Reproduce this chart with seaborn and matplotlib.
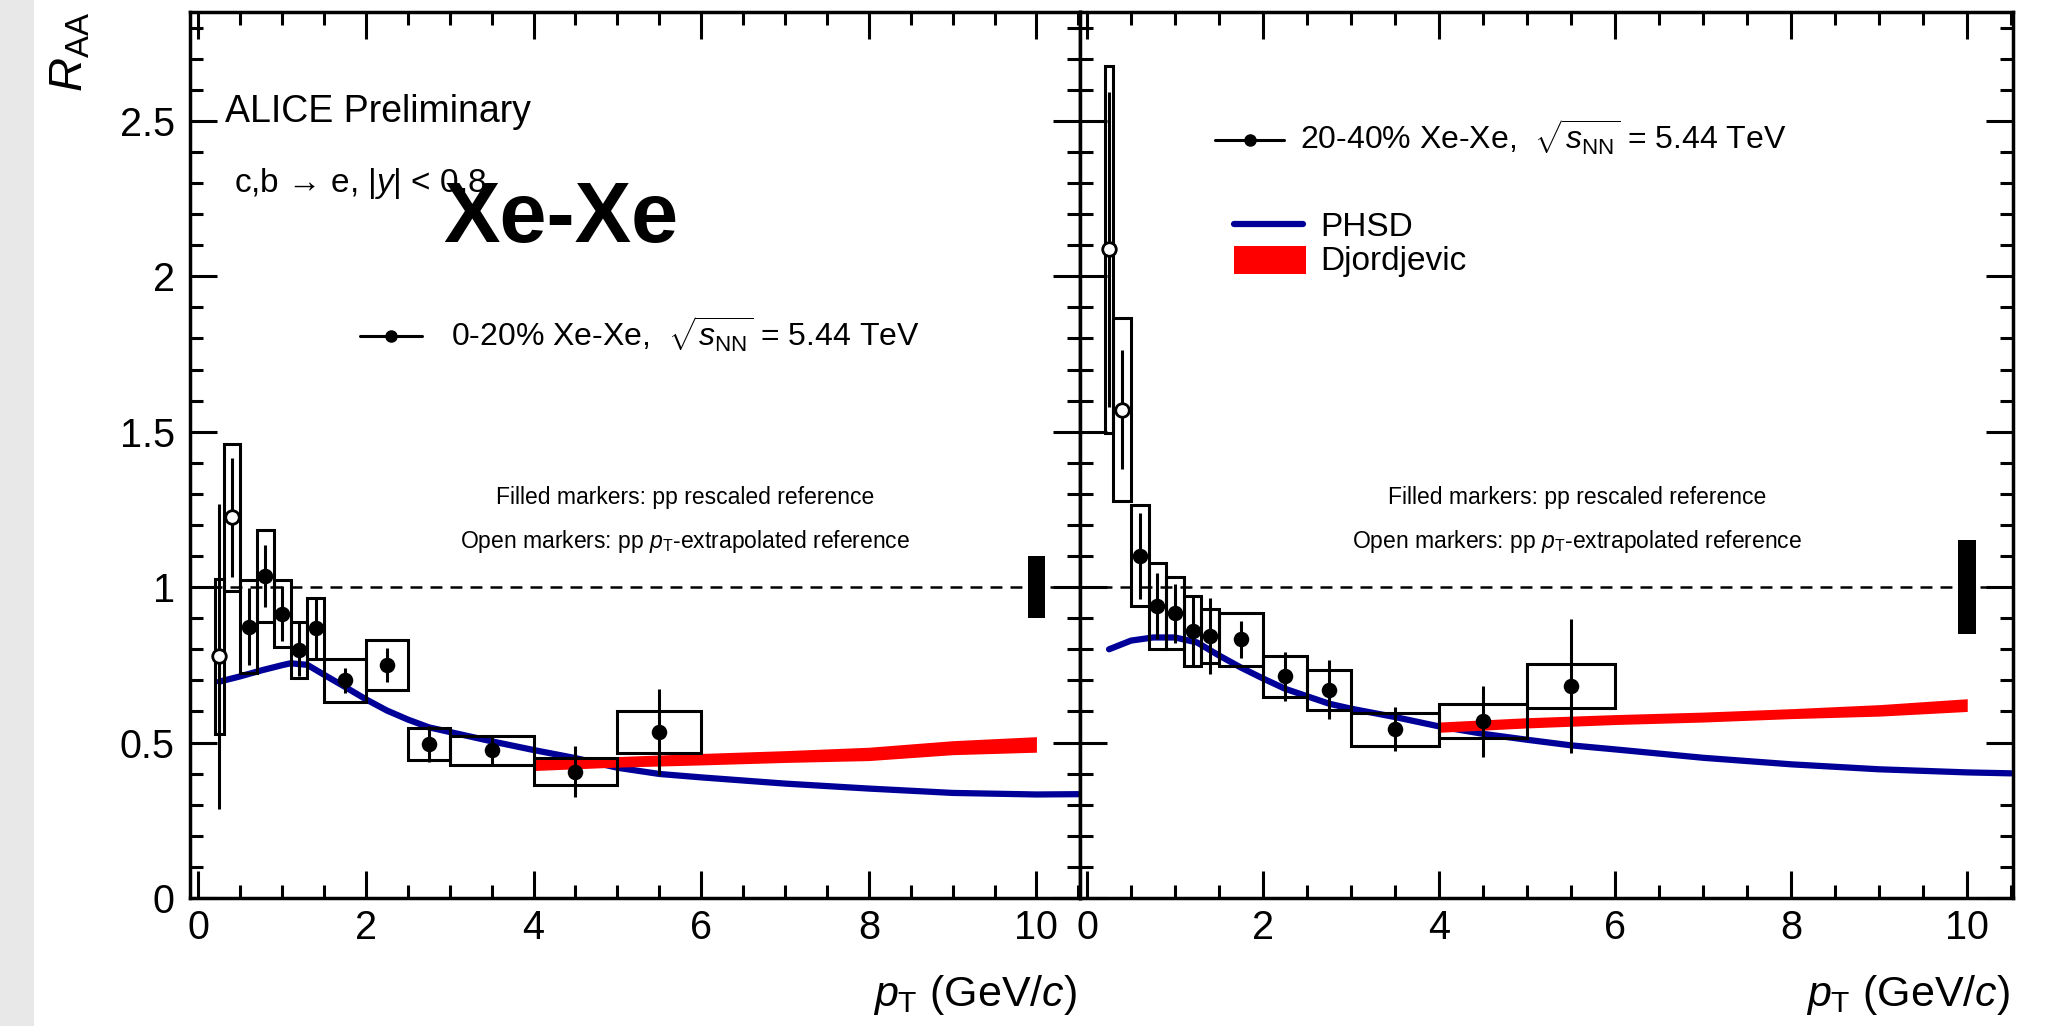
import matplotlib
matplotlib.use("Agg")
import matplotlib.pyplot as plt
from matplotlib.patches import Rectangle
from matplotlib.ticker import MultipleLocator, NullFormatter
import pandas as pd
import seaborn as sns

# ---------------- data: heavy-flavour electron R_AA in Xe-Xe ----------------
# bin layout shared by both centrality classes
pt_open = [0.25, 0.40]
bin_lo_open = [0.2, 0.3]
bin_hi_open = [0.3, 0.5]
pt_fill = [0.6, 0.8, 1.0, 1.2, 1.4, 1.75, 2.25, 2.75, 3.5, 4.5, 5.5]
bin_lo_fill = [0.5, 0.7, 0.9, 1.1, 1.3, 1.5, 2.0, 2.5, 3.0, 4.0, 5.0]
bin_hi_fill = [0.7, 0.9, 1.1, 1.3, 1.5, 2.0, 2.5, 3.0, 4.0, 5.0, 6.0]

# 0-20 %
raa_c0_open = [0.777, 1.224]
stat_c0_open = [0.49, 0.19]
sys_c0_open = [0.25, 0.236]
raa_c0 = [0.873, 1.036, 0.915, 0.798, 0.867, 0.701, 0.750, 0.495, 0.475, 0.406, 0.534]
stat_c0 = [0.125, 0.100, 0.088, 0.085, 0.095, 0.040, 0.054, 0.058, 0.050, 0.082, 0.137]
sys_c0 = [0.150, 0.147, 0.109, 0.090, 0.098, 0.069, 0.080, 0.052, 0.046, 0.043, 0.068]
norm_c0 = 0.10

# 20-40 %
raa_c1_open = [2.087, 1.571]
stat_c1_open = [0.506, 0.192]
sys_c1_open = [0.59, 0.295]
raa_c1 = [1.101, 0.940, 0.916, 0.859, 0.843, 0.832, 0.713, 0.670, 0.543, 0.569, 0.682]
stat_c1 = [0.138, 0.106, 0.095, 0.108, 0.123, 0.059, 0.078, 0.094, 0.070, 0.114, 0.215]
sys_c1 = [0.162, 0.139, 0.116, 0.112, 0.087, 0.086, 0.067, 0.064, 0.053, 0.055, 0.071]
norm_c1 = 0.15

# PHSD predictions
phsd_c0_pt = [0.25, 0.5, 0.75, 1.0, 1.1, 1.3, 1.5, 1.75, 2.0, 2.25, 2.5, 2.75, 3.0,
              3.5, 4.0, 4.5, 5.0, 5.5, 6.0, 7.0, 8.0, 9.0, 10.0, 10.5]
phsd_c0 = [0.696, 0.713, 0.732, 0.749, 0.755, 0.750, 0.718, 0.679, 0.639, 0.603, 0.574,
           0.549, 0.534, 0.504, 0.476, 0.450, 0.419, 0.399, 0.388, 0.368, 0.352, 0.338,
           0.333, 0.334]
phsd_c1_pt = [0.25, 0.5, 0.75, 1.0, 1.25, 1.5, 1.75, 2.0, 2.25, 2.5, 2.75, 3.0, 3.5,
              4.0, 4.5, 5.0, 5.5, 6.0, 7.0, 8.0, 9.0, 10.0, 10.5]
phsd_c1 = [0.800, 0.828, 0.838, 0.838, 0.822, 0.780, 0.741, 0.706, 0.673, 0.649, 0.625,
           0.609, 0.582, 0.552, 0.528, 0.509, 0.491, 0.478, 0.451, 0.430, 0.414, 0.404,
           0.401]

# Djordjevic predictions (band)
djo_pt = [4, 5, 6, 7, 8, 9, 10]
djo_c0_lo = [0.410, 0.421, 0.428, 0.436, 0.442, 0.461, 0.469]
djo_c0_hi = [0.448, 0.455, 0.465, 0.474, 0.485, 0.506, 0.519]
djo_c1_lo = [0.533, 0.547, 0.558, 0.566, 0.577, 0.585, 0.600]
djo_c1_hi = [0.566, 0.580, 0.590, 0.598, 0.609, 0.622, 0.641]

x_ticks = [0, 2, 4, 6, 8, 10]
y_ticks = [0, 0.5, 1, 1.5, 2, 2.5]
y_tick_labels = ["0", "0.5", "1", "1.5", "2", "2.5"]

# ---------------- style ----------------
sns.set_style("white")
plt.rcParams["font.family"] = ["Liberation Sans", "DejaVu Sans"]
plt.rcParams["mathtext.fontset"] = "custom"
plt.rcParams["mathtext.rm"] = "Liberation Sans"
plt.rcParams["mathtext.it"] = "Liberation Sans:italic"
plt.rcParams["mathtext.bf"] = "Liberation Sans:bold"
plt.rcParams["lines.scale_dashes"] = False
for key in ("text.color", "axes.labelcolor", "xtick.color", "ytick.color",
            "axes.edgecolor"):
    plt.rcParams[key] = "black"

BLUE = "#000099"
RED = "#ff0000"
W, H = 2069, 1026

fig = plt.figure(figsize=(W / 100, H / 100), dpi=100)
fig.patch.set_facecolor("white")
fig.add_artist(Rectangle((0, 0), 34 / W, 1, transform=fig.transFigure,
                         facecolor="#e8e8e8", edgecolor="none", zorder=0))

y_bot, y_top = 898, 12
ax1 = fig.add_axes([190 / W, 1 - y_bot / H, (1080 - 190) / W, (y_bot - y_top) / H])
ax2 = fig.add_axes([1080 / W, 1 - y_bot / H, (2013 - 1080) / W, (y_bot - y_top) / H])


def draw_panel(ax, raa_open, stat_open, sys_open, raa, stat, sys, norm,
               phsd_pt, phsd, djo_lo, djo_hi):
    ax.axhline(1.0, color="black", lw=1.8, ls=(0, (8.6, 5.8)), zorder=1)

    # model curves
    ax.fill_between(djo_pt, djo_lo, djo_hi, color=RED, lw=0, zorder=3)
    sns.lineplot(x=phsd_pt, y=phsd, ax=ax, color=BLUE, lw=4.5, estimator=None,
                 sort=False, zorder=2)

    # systematic boxes
    for lo, hi, v, s in zip(bin_lo_open + bin_lo_fill, bin_hi_open + bin_hi_fill,
                            raa_open + raa, sys_open + sys):
        ax.add_patch(Rectangle((lo, v - s), hi - lo, 2 * s, fill=False,
                               edgecolor="black", lw=2.2, zorder=4))

    # statistical errors
    ax.errorbar(pt_open + pt_fill, raa_open + raa, yerr=stat_open + stat, fmt="none",
                ecolor="black", elinewidth=2.2, capsize=0, zorder=5)

    # markers
    df_fill = pd.DataFrame({"pt": pt_fill, "raa": raa})
    df_open = pd.DataFrame({"pt": pt_open, "raa": raa_open})
    sns.scatterplot(data=df_fill, x="pt", y="raa", ax=ax, color="black", s=125,
                    edgecolor="black", linewidth=0, zorder=6)
    sns.scatterplot(data=df_open, x="pt", y="raa", ax=ax, color="white", s=95,
                    edgecolor="black", linewidth=2.0, zorder=6)

    # global normalisation uncertainty
    ax.add_patch(Rectangle((9.9, 1 - norm), 0.2, 2 * norm, facecolor="black",
                           edgecolor="none", zorder=5))

    ax.set_ylim(0, 2.85)
    ax.set_xticks(x_ticks)
    ax.xaxis.set_minor_locator(MultipleLocator(0.5))
    ax.set_yticks(y_ticks)
    ax.yaxis.set_minor_locator(MultipleLocator(0.1))
    ax.tick_params(which="both", direction="in", top=True, right=True,
                   bottom=True, left=True, width=2.2, color="black",
                   labelcolor="black")
    ax.tick_params(which="major", length=19.5, labelsize=28.5)
    ax.tick_params(axis="y", which="major", pad=11)
    ax.tick_params(axis="x", which="major", pad=8)
    ax.tick_params(which="minor", length=9.7)
    for sp in ax.spines.values():
        sp.set_linewidth(2.5)
        sp.set_color("black")
    ax.set_xlabel("")
    ax.set_ylabel("")
    ax.text(0.997, -0.122, r"$p_{\rm T}$ (GeV/$c$)", transform=ax.transAxes,
            ha="right", va="baseline", fontsize=31)


draw_panel(ax1, raa_c0_open, stat_c0_open, sys_c0_open, raa_c0, stat_c0, sys_c0,
           norm_c0, phsd_c0_pt, phsd_c0, djo_c0_lo, djo_c0_hi)
draw_panel(ax2, raa_c1_open, stat_c1_open, sys_c1_open, raa_c1, stat_c1, sys_c1,
           norm_c1, phsd_c1_pt, phsd_c1, djo_c1_lo, djo_c1_hi)

ax1.set_xlim(-0.1, 10.52)
ax2.set_xlim(-0.08, 10.52)
ax1.set_yticklabels(y_tick_labels)
ax2.yaxis.set_major_formatter(NullFormatter())

# y-axis title
fig.text(0.034, 0.988, r"$R_{\rm AA}$", rotation=90, ha="center", va="top", fontsize=34)

# left panel annotations
t1 = ax1.transAxes
ax1.text(0.039, 0.876, "ALICE Preliminary", transform=t1, fontsize=27, va="baseline")
ax1.text(0.049, 0.797, "c,b \u2192 e, |$y$| < 0.8", transform=t1, fontsize=24,
         va="baseline")
ax1.text(0.285, 0.740, "Xe-Xe", transform=t1, fontsize=61, fontweight="bold",
         va="baseline")
ax1.plot([0.191, 0.261], [0.634, 0.634], transform=t1, color="black", lw=2.2,
         zorder=7)
ax1.plot([0.226], [0.634], transform=t1, marker="o", ms=8, color="black", zorder=7)
ax1.text(0.293, 0.622, r"0-20% Xe-Xe,  $\sqrt{s_{\rm NN}}$ = 5.44 TeV", transform=t1,
         fontsize=23, va="baseline")
ax1.text(0.556, 0.445, "Filled markers: pp rescaled reference", transform=t1,
         fontsize=16.5, ha="center", va="baseline")
ax1.text(0.556, 0.395, r"Open markers: pp $p_{\rm T}$-extrapolated reference",
         transform=t1, fontsize=16.5, ha="center", va="baseline")

# right panel annotations
t2 = ax2.transAxes
ax2.plot([0.145, 0.219], [0.856, 0.856], transform=t2, color="black", lw=2.2, zorder=7)
ax2.plot([0.182], [0.856], transform=t2, marker="o", ms=8, color="black", zorder=7)
ax2.text(0.236, 0.845, r"20-40% Xe-Xe,  $\sqrt{s_{\rm NN}}$ = 5.44 TeV", transform=t2,
         fontsize=23, va="baseline")
ax2.plot([0.165, 0.239], [0.761, 0.761], transform=t2, color=BLUE, lw=4.5, zorder=7)
ax2.text(0.257, 0.747, "PHSD", transform=t2, fontsize=24, va="baseline")
ax2.add_patch(Rectangle((0.165, 0.704), 0.077, 0.032, transform=t2, facecolor=RED,
                        edgecolor="none", zorder=7))
ax2.text(0.257, 0.709, "Djordjevic", transform=t2, fontsize=24, va="baseline")
ax2.text(0.533, 0.445, "Filled markers: pp rescaled reference", transform=t2,
         fontsize=16.5, ha="center", va="baseline")
ax2.text(0.533, 0.395, r"Open markers: pp $p_{\rm T}$-extrapolated reference",
         transform=t2, fontsize=16.5, ha="center", va="baseline")

fig.savefig("out.png", dpi=100, facecolor="white")
